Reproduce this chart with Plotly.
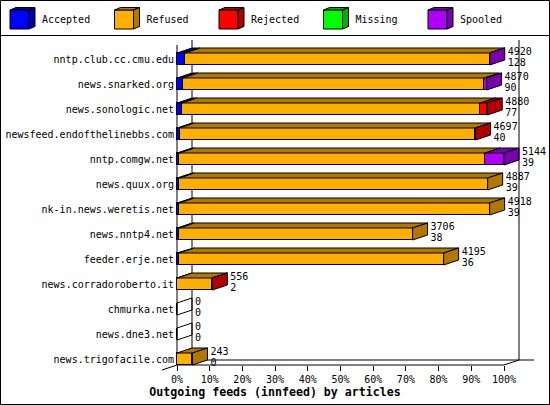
import plotly.graph_objects as go

feeds = ["nntp.club.cc.cmu.edu", "news.snarked.org", "news.sonologic.net",
         "newsfeed.endofthelinebbs.com", "nntp.comgw.net", "news.quux.org",
         "nk-in.news.weretis.net", "news.nntp4.net", "feeder.erje.net",
         "news.corradoroberto.it", "chmurka.net", "news.dne3.net",
         "news.trigofacile.com"]
accepted = [128, 90, 77, 40, 39, 39, 39, 38, 36, 2, 0, 0, 0]
refused = [4789, 4744, 4696, 4655, 4807, 4848, 4879, 3668, 4159, 552, 0, 0, 243]
rejected = [0, 0, 107, 2, 0, 0, 0, 0, 0, 2, 0, 0, 0]
missing = [0, 0, 0, 0, 0, 0, 0, 0, 0, 0, 0, 0, 0]
spooled = [3, 36, 0, 0, 298, 0, 0, 0, 0, 0, 0, 0, 0]

series_names = ["Accepted", "Refused", "Rejected", "Missing", "Spooled"]
front_colors = ["#0000ff", "#ffaf00", "#ff0000", "#00ff00", "#af00ff"]
dark_colors = ["#0000b0", "#b07800", "#b00000", "#00b000", "#7800b0"]
pct_ticks = [0, 10, 20, 30, 40, 50, 60, 70, 80, 90, 100]
title = "Outgoing feeds (innfeed) by articles"

W, H = 550, 405
FONT = "DejaVu Sans Mono"

# pixel geometry
X0_PX, PX_PCT = 177, 3.27      # 0% position, px per percent
ROW0_PX, PX_ROW = 59, 25       # first row centre, px per row
DEP_X, DEP_Y = 15, 5           # 3d depth in px
BAR_PX = 12
TOP_PAD = 14                   # front axis above first bar centre

series = [accepted, refused, rejected, missing, spooled]
n = len(feeds)
rows = list(range(n))
offered = [sum(s[i] for s in series) for i in range(n)]
top = max(offered)
pct = [[v / top * 100 for v in s] for s in series]

dx = DEP_X / PX_PCT
dy = DEP_Y / PX_ROW
hh = BAR_PX / 2 / PX_ROW
front_top = -TOP_PAD / PX_ROW
floor = (n - 1) + hh

fig = go.Figure()

# front faces
for k, name in enumerate(series_names):
    fig.add_trace(go.Bar(
        orientation="h", y=rows, x=pct[k], width=2 * hh, name=name,
        marker=dict(color=front_colors[k], line=dict(color="black", width=1)),
        showlegend=False, hoverinfo="skip"))

# top faces and side faces
tops = {k: ([], []) for k in range(len(series))}
sides = {k: ([], []) for k in range(len(series))}
empty_x, empty_y = [], []
for i in rows:
    start = 0
    last = None
    for k in range(len(series)):
        w = pct[k][i]
        if w <= 0:
            continue
        end = start + w
        tx, ty = tops[k]
        tx += [start, start + dx, end + dx, end, start, None]
        ty += [i - hh, i - hh - dy, i - hh - dy, i - hh, i - hh, None]
        start = end
        last = k
    sx = [start, start + dx, start + dx, start, start, None]
    sy = [i - hh, i - hh - dy, i + hh - dy, i + hh, i - hh, None]
    if last is None:
        empty_x += sx
        empty_y += sy
    else:
        sides[last][0].extend(sx)
        sides[last][1].extend(sy)

for k in range(len(series)):
    for xs, ys in (tops[k], sides[k]):
        if xs:
            fig.add_trace(go.Scatter(
                x=xs, y=ys, mode="lines", fill="toself",
                fillcolor=dark_colors[k], line=dict(color="black", width=1),
                showlegend=False, hoverinfo="skip"))
if empty_x:
    fig.add_trace(go.Scatter(x=empty_x, y=empty_y, mode="lines",
                             line=dict(color="black", width=1),
                             showlegend=False, hoverinfo="skip"))

# value labels: offered / accepted
ends = [o / top * 100 + dx + 3 / PX_PCT for o in offered]
fig.add_trace(go.Scatter(
    x=ends, y=[r - 0.27 for r in rows], text=[str(v) for v in offered],
    mode="text", textposition="middle right", cliponaxis=False,
    textfont=dict(family=FONT, size=10, color="black"),
    showlegend=False, hoverinfo="skip"))
fig.add_trace(go.Scatter(
    x=ends, y=[r + 0.16 for r in rows], text=[str(v) for v in accepted],
    mode="text", textposition="middle right", cliponaxis=False,
    textfont=dict(family=FONT, size=10, color="black"),
    showlegend=False, hoverinfo="skip"))

# legend cubes on their own axes
LEG_X0, LEG_STEP, CUBE, LDX, LDY, LEG_Y = 10, 104.5, 19, 6, 2.5, 10
for k, name in enumerate(series_names):
    l = LEG_X0 + k * LEG_STEP
    r = l + CUBE
    b = LEG_Y + CUBE
    fig.add_trace(go.Scatter(
        x=[l, r, r, l, l], y=[LEG_Y, LEG_Y, b, b, LEG_Y], mode="lines",
        fill="toself", fillcolor=front_colors[k],
        line=dict(color="black", width=1), xaxis="x2", yaxis="y2",
        showlegend=False, hoverinfo="skip"))
    fig.add_trace(go.Scatter(
        x=[l, l + LDX, r + LDX, r, l, None, r, r + LDX, r + LDX, r, r],
        y=[LEG_Y, LEG_Y - LDY, LEG_Y - LDY, LEG_Y, LEG_Y, None,
           LEG_Y, LEG_Y - LDY, b - LDY, b, LEG_Y],
        mode="lines", fill="toself", fillcolor=dark_colors[k],
        line=dict(color="black", width=1), xaxis="x2", yaxis="y2",
        showlegend=False, hoverinfo="skip"))
    fig.add_trace(go.Scatter(
        x=[r + LDX + 7], y=[LEG_Y + CUBE / 2 + 0.5], text=[name], mode="text",
        textposition="middle right", cliponaxis=False,
        textfont=dict(family=FONT, size=10, color="black"),
        xaxis="x2", yaxis="y2", showlegend=False, hoverinfo="skip"))

# frame lines behind the bars
frame = [
    (dx, front_top - dy, dx, floor - dy),
    (100 + dx, front_top - dy, 100 + dx, floor - dy),
    (dx, floor - dy, 100 + 2 * dx, floor - dy),
    (0, front_top, 0, floor),
    (0, floor, 100, floor),
    (100, floor, 100 + dx, floor - dy),
    (dx, floor - dy, -dx, floor + dy),
]
shapes = [dict(type="line", xref="x", yref="y", x0=a, y0=b, x1=c, y1=d,
               line=dict(color="black", width=1), layer="below")
          for a, b, c, d in frame]
shapes.append(dict(type="rect", xref="paper", yref="paper",
                   x0=0.5 / W, y0=0.5 / H, x1=1 - 0.5 / W, y1=1 - 0.5 / H,
                   line=dict(color="black", width=1)))
shapes.append(dict(type="line", xref="paper", yref="paper",
                   x0=0, x1=1, y0=1 - 35.5 / H, y1=1 - 35.5 / H,
                   line=dict(color="black", width=1)))

px_l, px_r, px_t, px_b = 160, 540, 38, 372
fig.update_layout(
    width=W, height=H, autosize=False,
    margin=dict(l=0, r=0, t=0, b=0),
    paper_bgcolor="white", plot_bgcolor="rgba(0,0,0,0)",
    barmode="stack", bargap=0,
    shapes=shapes,
    font=dict(family=FONT, size=10, color="black"),
    title=dict(text=title, x=0.5, xanchor="center", xref="paper",
               y=1 - 392 / H, yanchor="middle", yref="container",
               font=dict(family=FONT, size=11.6, color="black", weight="bold")),
    xaxis=dict(domain=[px_l / W, px_r / W],
               range=[(px_l - X0_PX) / PX_PCT, (px_r - X0_PX) / PX_PCT],
               anchor="free", position=1 - (ROW0_PX + floor * PX_ROW) / H,
               tickvals=pct_ticks, ticktext=[f"{t}%" for t in pct_ticks],
               ticks="outside", ticklen=5, tickcolor="black",
               showgrid=False, zeroline=False, showline=False,
               tickfont=dict(family=FONT, size=10, color="black")),
    yaxis=dict(domain=[1 - px_b / H, 1 - px_t / H],
               range=[(px_b - ROW0_PX) / PX_ROW, (px_t - ROW0_PX) / PX_ROW],
               anchor="free", position=X0_PX / W,
               tickvals=rows, ticktext=feeds, ticks="", ticklabelstandoff=3,
               showgrid=False, zeroline=False, showline=False,
               tickfont=dict(family=FONT, size=10, color="black")),
    xaxis2=dict(domain=[0, 1], range=[0, W], anchor="y2", visible=False),
    yaxis2=dict(domain=[1 - 35 / H, 1], range=[35, 0], anchor="x2",
                visible=False),
)

# page has a default body margin; drop it so the chart sits at 0,0
fig.write_html("out.html", config={"displayModeBar": False},
               post_script="document.body.style.margin='0';")
